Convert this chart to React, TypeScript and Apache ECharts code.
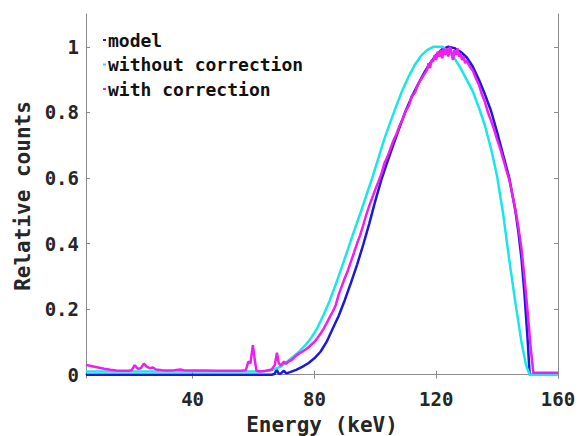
import React, { useEffect, useRef } from "react";
import * as echarts from "echarts";

const seriesNames = ["model", "without correction", "with correction"];
const seriesColors = ["#1a1adc", "#19e6e6", "#f01cf0"];

const xTicks = [40, 80, 120, 160];
const yTicks = [0, 0.2, 0.4, 0.6, 0.8, 1];

const modelPts: [number, number][] = [
  [5, 0], [66, 0], [67, 0.003], [67.6, 0.016], [68.3, 0.003], [69, 0.004], [70, 0.012], [70.8, 0.004],
  [72, 0.008], [74, 0.015], [76, 0.024], [78, 0.035], [80, 0.05], [82, 0.07], [84, 0.1],
  [86, 0.14], [88, 0.18], [90, 0.228], [92, 0.28], [94, 0.335], [96, 0.395], [98, 0.46],
  [100, 0.53], [102, 0.595], [104, 0.65], [106, 0.703], [108, 0.755], [110, 0.805], [112, 0.848],
  [114, 0.885], [116, 0.92], [118, 0.95], [120, 0.975], [122, 0.993], [124, 1.0], [126, 0.996],
  [128, 0.985], [130, 0.968], [132, 0.94], [134, 0.9], [136, 0.855], [138, 0.805], [140, 0.74],
  [142, 0.67], [144, 0.6], [146, 0.5], [147, 0.435], [148, 0.355], [149, 0.245],
  [150, 0.11], [150.7, 0], [160, 0],
];

const withoutPts: [number, number][] = [
  [5, 0.01], [63, 0.01], [65, 0.012], [67, 0.017], [69, 0.025], [71, 0.04], [73, 0.055],
  [75, 0.07], [77, 0.09], [79, 0.113], [81, 0.143], [83, 0.182], [85, 0.225], [87, 0.275],
  [89, 0.328], [91, 0.382], [93, 0.437], [95, 0.49], [97, 0.545], [99, 0.6], [101, 0.66],
  [103, 0.72], [105, 0.772], [107, 0.822], [109, 0.87], [111, 0.91], [113, 0.945], [115, 0.972],
  [117, 0.99], [119, 1.0], [122, 1.0], [124, 0.985], [126, 0.965], [128, 0.935], [130, 0.9],
  [132, 0.865], [134, 0.815], [136, 0.76], [138, 0.69], [140, 0.605], [142, 0.49],
  [144, 0.35], [146, 0.22], [148, 0.1], [149.5, 0.03], [150.7, 0], [160, 0],
];

const withPts: [number, number][] = [
  [5, 0.03], [7, 0.026], [9, 0.022], [11, 0.018], [13, 0.015], [15, 0.013], [17, 0.012],
  [19, 0.012], [20, 0.014], [21, 0.029], [22, 0.018], [23, 0.02], [24, 0.034], [25, 0.024],
  [26, 0.02], [27, 0.022], [28, 0.016], [30, 0.014], [32, 0.013], [34, 0.014], [36, 0.016],
  [37, 0.014], [40, 0.013], [44, 0.013], [48, 0.012], [52, 0.012], [56, 0.012], [57.5, 0.014],
  [58.3, 0.04], [59, 0.035], [59.8, 0.09], [60.5, 0.04], [61, 0.012], [62, 0.01], [64, 0.012],
  [66, 0.016], [67, 0.03], [67.7, 0.067], [68.3, 0.035], [69, 0.028], [70, 0.04], [70.7, 0.033],
  [71.5, 0.04], [72.5, 0.045], [74, 0.058], [75, 0.065], [76, 0.07], [77, 0.076], [78, 0.083],
  [79, 0.092], [80, 0.1], [81, 0.112], [82, 0.125], [83, 0.14], [84, 0.157], [85, 0.175],
  [86, 0.192], [87, 0.212], [88, 0.245], [89, 0.27], [90, 0.295], [91, 0.318], [92, 0.345],
  [93, 0.372], [94, 0.4], [95, 0.425], [96, 0.455], [97, 0.487], [98, 0.515], [99, 0.54],
  [100, 0.565], [101, 0.588], [102, 0.612], [103, 0.645], [104, 0.665], [105, 0.69],
  [106, 0.715], [107, 0.735], [108, 0.76], [109, 0.78], [110, 0.805], [111, 0.82], [112, 0.85],
  [113, 0.86], [114, 0.885], [115, 0.9], [116, 0.915], [117, 0.93], [117.5, 0.95], [118, 0.935],
  [118.5, 0.96], [119, 0.955], [119.5, 0.975], [120, 0.96], [120.5, 0.985], [121, 0.97],
  [121.5, 0.99], [122, 0.965], [122.5, 0.995], [123, 0.975], [123.5, 0.995], [124, 0.97],
  [124.5, 1.0], [125, 0.985], [125.5, 0.96], [126, 0.99], [126.5, 0.975], [127, 0.995],
  [127.5, 0.97], [128, 0.98], [128.5, 0.96], [129, 0.97], [129.5, 0.95], [130, 0.958],
  [131, 0.94], [132, 0.928], [133, 0.905], [134, 0.885], [135, 0.855], [136, 0.832], [137, 0.8],
  [138, 0.775], [139, 0.748], [140, 0.718], [141, 0.69], [142, 0.658], [143, 0.625], [144, 0.595],
  [145, 0.55], [146, 0.505], [147, 0.45], [148, 0.385], [149, 0.295], [150, 0.195], [151, 0.085],
  [151.9, 0.006], [160, 0.006],
];

const MONO = "'DejaVu Sans Mono', monospace";
const AXIS_GRAY = "#8c8c8c";
const TEXT = "#262626";

export default function App() {
  const ref = useRef<HTMLDivElement>(null);
  useEffect(() => {
    if (!ref.current) return;
    const chart = echarts.init(ref.current, undefined, { renderer: "svg" });
    const xCommon = {
      type: "value" as const,
      min: 5,
      max: 160,
      axisLine: { show: true, lineStyle: { color: AXIS_GRAY, width: 1 } },
      axisTick: { inside: true, length: 4, customValues: xTicks, lineStyle: { color: AXIS_GRAY } },
      splitLine: { show: false },
    };
    const yCommon = {
      type: "value" as const,
      min: -0.01,
      max: 1.1,
      axisLine: { show: true, lineStyle: { color: AXIS_GRAY, width: 1 } },
      axisTick: { inside: true, length: 4, customValues: yTicks, lineStyle: { color: AXIS_GRAY } },
      splitLine: { show: false },
    };
    const datasets = [modelPts, withoutPts, withPts];
    chart.setOption({
      animation: false,
      backgroundColor: "#ffffff",
      grid: { left: 86, right: 22, top: 14, bottom: 58, containLabel: false, outerBoundsMode: "none" },
      legend: {
        orient: "vertical",
        left: 98,
        top: 26,
        icon: "rect",
        itemWidth: 3,
        itemHeight: 2,
        itemGap: 6.5,
        data: seriesNames,
        textStyle: { fontFamily: MONO, fontWeight: "bold", fontSize: 18, color: "#111", padding: [0, 0, 0, -3] },
      },
      xAxis: [
        {
          ...xCommon,
          position: "bottom",
          name: "Energy (keV)",
          nameLocation: "middle",
          nameGap: 36,
          nameTextStyle: { fontFamily: MONO, fontWeight: "bold", fontSize: 21, color: TEXT },
          axisLabel: {
            customValues: xTicks,
            margin: 11,
            fontFamily: MONO,
            fontWeight: "bold",
            fontSize: 19,
            color: TEXT,
          },
        },
        { ...xCommon, position: "top", axisLabel: { show: false } },
      ],
      yAxis: [
        {
          ...yCommon,
          position: "left",
          name: "Relative counts",
          nameLocation: "middle",
          nameGap: 50,
          nameTextStyle: { fontFamily: MONO, fontWeight: "bold", fontSize: 21, color: TEXT },
          axisLabel: {
            customValues: yTicks,
            margin: 7,
            fontFamily: MONO,
            fontWeight: "bold",
            fontSize: 19,
            color: TEXT,
            formatter: (v: number) => String(Math.round(v * 10) / 10),
          },
        },
        { ...yCommon, position: "right", axisLabel: { show: false } },
      ],
      series: datasets.map((d, i) => ({
        name: seriesNames[i],
        type: "line",
        data: d,
        xAxisIndex: 0,
        yAxisIndex: 0,
        showSymbol: false,
        symbol: "none",
        lineStyle: { color: seriesColors[i], width: 2.5 },
        itemStyle: { color: seriesColors[i] },
        z: 2 + i,
      })),
    });
    return () => chart.dispose();
  }, []);
  return <div ref={ref} style={{ width: 580, height: 436, position: "absolute", left: 0, top: 0 }} />;
}
